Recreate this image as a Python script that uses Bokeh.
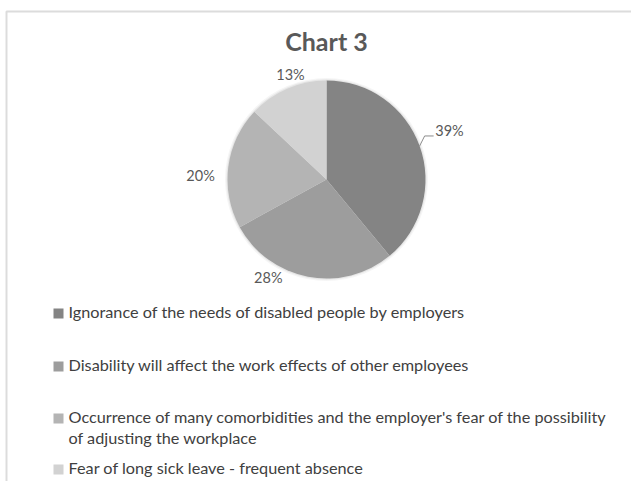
import math
from bokeh.plotting import figure
from bokeh.models import Range1d
from bokeh.core.properties import value
from bokeh.embed import file_html
from bokeh.resources import INLINE

# ---- data ----
title_text = "Chart 3"
categories = [
    "Ignorance of the needs of disabled people by employers",
    "Disability will affect the work effects of other employees",
    "Occurrence of many comorbidities and the employer's fear of the possibility of adjusting the workplace",
    "Fear of long sick leave - frequent absence",
]
legend_lines = [
    ["Ignorance of the needs of disabled people by employers"],
    ["Disability will affect  the work effects of other employees"],
    ["Occurrence of many comorbidities and the employer's fear of the possibility",
     "of adjusting the workplace"],
    ["Fear of long sick leave - frequent  absence"],
]
shares = [39, 28, 20, 13]
pct_labels = ["39%", "28%", "20%", "13%"]

# ---- style / layout ----
colors = ["#848484", "#9d9d9d", "#b4b4b4", "#d2d2d2"]
W, H = 631, 481
FONT = "Lato"
BASE_SHIFT = 0.42  # em offset to align the alphabetic baseline


def X(sx):
    return sx


def Y(sy):
    return H - sy


def YB(sy, size):
    # data y that puts a text baseline at screen y = sy
    return Y(sy - BASE_SHIFT * size)


p = figure(width=W, height=H, output_backend="svg", toolbar_location=None,
           x_axis_location=None, y_axis_location=None, min_border=0,
           x_range=Range1d(0, W), y_range=Range1d(0, H))
p.grid.visible = False
p.outline_line_color = None
p.background_fill_color = "white"
p.border_fill_color = "white"

# chart frame
p.line([X(6), X(6), X(640)], [Y(490), Y(11), Y(11)], line_color="#dcdcdc", line_width=2)

# title
TS = 25
p.text([X(326)], [YB(51, TS)], text=[title_text], text_font=value(FONT), text_font_style="bold",
       text_font_size=f"{TS}px", text_color="#595959", text_align="center",
       text_baseline="alphabetic")

# pie
cx, cy, r = X(326), Y(179), 99
p.circle([cx], [cy], radius=r + 2.5, fill_color="#000000", fill_alpha=0.04, line_color=None)
p.circle([cx], [cy], radius=r + 1.2, fill_color="#000000", fill_alpha=0.06, line_color=None)
starts, ends, mids = [], [], []
a = 90.0
for s in shares:
    starts.append(math.radians(a))
    ends.append(math.radians(a - s * 3.6))
    mids.append(a - s * 1.8)
    a -= s * 3.6
p.wedge(x=[cx] * len(shares), y=[cy] * len(shares), radius=r, start_angle=starts,
        end_angle=ends, direction="clock", fill_color=colors, line_color=None)

# data labels (polar placement relative to pie center: angle deg, distance px)
LS = 14.5
label_place = [(21.3, 132), (-120.4, 115), (178.6, 126), (109.1, 110)]
lx, ly = [], []
for ang, dist in label_place:
    lx.append(cx + dist * math.cos(math.radians(ang)))
    ly.append(cy + dist * math.sin(math.radians(ang)) - 5 + BASE_SHIFT * LS)
p.text(lx, ly, text=pct_labels, text_font=value(FONT), text_font_size=f"{LS}px",
       text_color="#595959", text_align="center", text_baseline="alphabetic")

# leader line for first label
m = math.radians(mids[0])
x0, y0 = cx + r * math.cos(m), cy + r * math.sin(m)
p.line([x0, x0 + 5, x0 + 14], [y0, y0 + 10, y0 + 10], line_color="#8c8c8c", line_width=1)

# legend
FS = 16.25
row_baselines = [318, 371, 423, 474]
line_gap = 21
for i, lines in enumerate(legend_lines):
    b = row_baselines[i]
    p.rect([X(58)], [Y(b - 5)], width=10, height=10, fill_color=colors[i], line_color=None)
    xs = [X(68)] * len(lines)
    ys = [YB(b + k * line_gap, FS) for k in range(len(lines))]
    p.text(xs, ys, text=lines, text_font=value(FONT), text_font_size=f"{FS}px",
           text_color="#404040", text_align="left", text_baseline="alphabetic")

open("out.html", "w").write(file_html(p, INLINE))
